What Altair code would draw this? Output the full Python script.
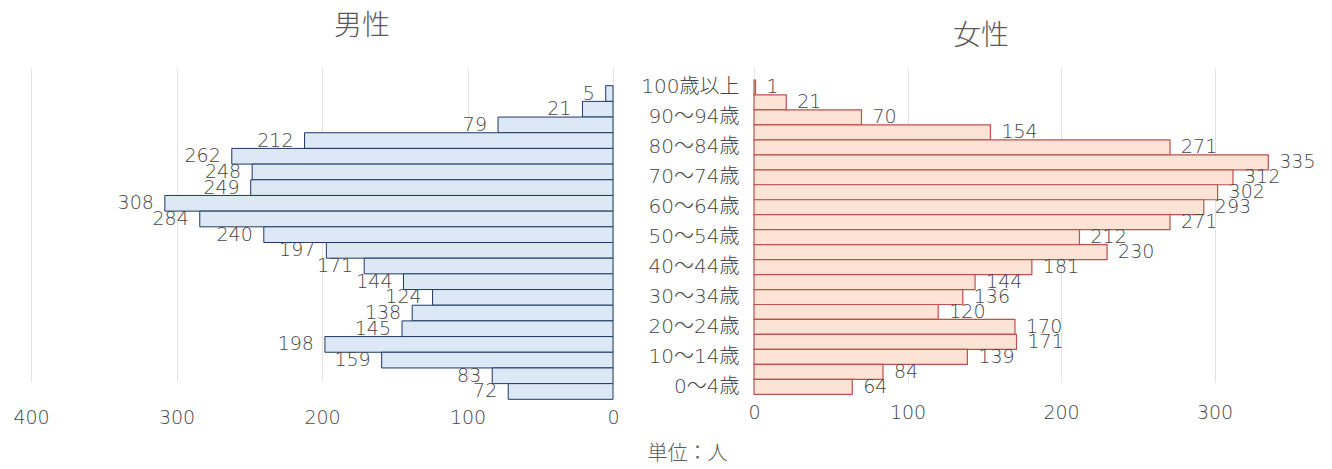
import altair as alt
import pandas as pd

# Age groups from oldest to youngest
ages = [
    "100歳以上", "95～99歳", "90～94歳", "85～89歳", "80～84歳", "75～79歳",
    "70～74歳", "65～69歳", "60～64歳", "55～59歳", "50～54歳", "45～49歳",
    "40～44歳", "35～39歳", "30～34歳", "25～29歳", "20～24歳", "15～19歳",
    "10～14歳", "5～9歳", "0～4歳",
]
female_counts = [1, 21, 70, 154, 271, 335, 312, 302, 293, 271, 212, 230,
                 181, 144, 136, 120, 170, 171, 139, 84, 64]

male_ages = ages[1:]
male_counts = [5, 21, 79, 212, 262, 248, 249, 308, 284, 240, 197, 171,
               144, 124, 138, 145, 198, 159, 83, 72]

age_ticks = ages[::2]
male_ticks = [0, 100, 200, 300, 400]
female_ticks = [0, 100, 200, 300]

FONT = "DejaVu Sans, Noto Sans CJK JP"
CJK = "Noto Sans CJK JP"
GRAY = "#595959"
NUM = "#454545"
GRID = "#e3e3e3"
NUM_W = 200

male_df = pd.DataFrame({"age": male_ages, "count": male_counts})
female_df = pd.DataFrame({"age": ages, "count": female_counts})

# ---- male panel (x reversed, grows to the left) ----
male_base = alt.Chart(male_df).encode(
    x=alt.X(
        "count:Q",
        scale=alt.Scale(domain=[0, 400], reverse=True, nice=False),
        axis=alt.Axis(
            values=male_ticks, title=None, domain=False, ticks=False,
            labelFlush=False, labelFontSize=19, labelColor=NUM,
            labelFont=FONT, labelFontWeight=NUM_W, labelPadding=9,
            gridColor=GRID,
        ),
    ),
    y=alt.Y(
        "age:N", sort=male_ages, axis=None,
        scale=alt.Scale(paddingInner=0, paddingOuter=0, range=[17.7, 331.3]),
    ),
)
male_bars = male_base.mark_bar(fill="#dce8f5", stroke="#1f3864", strokeWidth=1)
male_text = male_base.mark_text(
    align="right", baseline="middle", dx=-11, fontSize=19, color=NUM,
    font=FONT, fontWeight=NUM_W,
).encode(text="count:Q")

male = alt.layer(male_bars, male_text).properties(
    width=582, height=331.3,
    title=alt.TitleParams(
        "男性", anchor="start", frame="group", dx=303, offset=27,
        fontSize=28, font=CJK, fontWeight=300, color=GRAY,
    ),
)

# ---- female panel ----
female_base = alt.Chart(female_df).encode(
    x=alt.X(
        "count:Q",
        scale=alt.Scale(domain=[0, 370], nice=False),
        axis=alt.Axis(
            values=female_ticks, domain=False, ticks=False,
            labelFlush=False, labelFontSize=19, labelColor=NUM,
            labelFont=FONT, labelFontWeight=NUM_W, labelPadding=9,
            gridColor=GRID,
            title="単位：人", titleX=-67, titleY=59, titleAlign="center",
            titleBaseline="middle", titleFontSize=20, titleFontWeight=300,
            titleColor=GRAY, titleFont=CJK,
        ),
    ),
    y=alt.Y(
        "age:N", sort=ages,
        scale=alt.Scale(paddingInner=0, paddingOuter=0, range=[12, 326.3]),
        axis=alt.Axis(
            values=age_ticks, title=None, domain=False, ticks=False,
            grid=False, labelFontSize=20, labelColor=NUM, labelFont=FONT,
            labelFontWeight=NUM_W, labelPadding=15,
        ),
    ),
)
female_bars = female_base.mark_bar(fill="#fce3d6", stroke="#c0504d", strokeWidth=1.2)
female_text = female_base.mark_text(
    align="left", baseline="middle", dx=11, fontSize=19, color=NUM,
    font=FONT, fontWeight=NUM_W,
).encode(text="count:Q")

female = alt.layer(female_bars, female_text).properties(
    width=568, height=326.3,
    title=alt.TitleParams(
        "女性", anchor="start", frame="group", dx=199, offset=17,
        fontSize=28, font=CJK, fontWeight=300, color=GRAY,
    ),
)

chart = (
    alt.hconcat(male, female, spacing=20)
    .properties(padding={"left": 12, "top": 13, "right": 0, "bottom": 25},
                background="white")
    .configure_view(stroke=None)
)

chart.save("out.html", embed_options={"renderer": "svg", "actions": False})
